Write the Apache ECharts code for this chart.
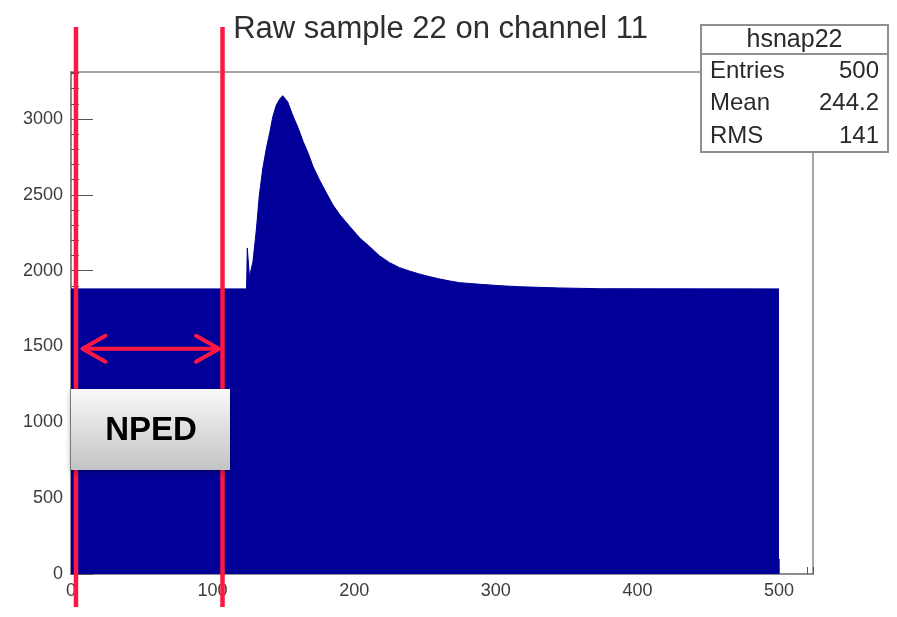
<!DOCTYPE html>
<html>
<head>
<meta charset="utf-8">
<title>Raw sample 22 on channel 11</title>
<script src="https://cdn.jsdelivr.net/npm/echarts@6/dist/echarts.min.js"></script>
<style>
  html, body { margin: 0; padding: 0; background: #ffffff; }
  #chart { width: 897px; height: 617px; }
</style>
</head>
<body>
<div id="chart"></div>
<script>
// Histogram title and statistics box contents
const histTitle = 'Raw sample 22 on channel 11';
const histName = 'hsnap22';
const statLabels = ['Entries', 'Mean', 'RMS'];
const statValues = ['500', '244.2', '141'];

// Sample number (x) and ADC counts (y) along the outline of the waveform
const sampleIndex = [0, 124, 124.5, 125.5, 126, 128.5, 131, 133, 135.5, 138, 140.5, 142.5, 145, 147.5, 149.5, 150.5,
  153, 156.5, 160.5, 164, 167.5, 171, 175.5, 180.5, 185, 190, 197, 204, 211, 218, 225, 232, 239, 246, 253.5,
  260.5, 267.5, 274.5, 289, 303, 317, 331, 345, 374, 500];
const adcCounts = [1880, 1880, 2150, 2150, 1960, 2059, 2281, 2499, 2677, 2809, 2916, 3015, 3092, 3133, 3154, 3158,
  3114, 3026, 2939, 2850, 2774, 2685, 2598, 2510, 2433, 2367, 2290, 2215, 2158, 2097, 2053, 2020, 1998, 1978, 1960,
  1945, 1932, 1921, 1910, 1901, 1894, 1890, 1886, 1881, 1880];

// Axis ranges and labelled ticks
const xRange = [0, 524];
const yRange = [0, 3310];
const xTickLabels = [0, 100, 200, 300, 400, 500];
const yTickLabels = [0, 500, 1000, 1500, 2000, 2500, 3000];

// Pedestal window markers (sample units) and arrow level (ADC counts)
const pedestalBounds = [3.5, 107];
const arrowLevel = 1485;
const pedestalTag = 'NPED';

const FONT = '"Liberation Sans", Arial, Helvetica, sans-serif';
const RED = '#ff1744';
const NAVY = '#000099';

const chart = echarts.init(document.getElementById('chart'), null, { renderer: 'canvas' });

const points = sampleIndex.map((x, i) => [x, adcCounts[i]]);

const axisLineStyle = { show: true, lineStyle: { color: '#8c8c8c', width: 2 } };

chart.setOption({
  animation: false,
  backgroundColor: '#ffffff',
  grid: {
    left: 71, top: 72, width: 742, height: 502,
    show: true, borderColor: '#a6a6a6', borderWidth: 2, backgroundColor: 'transparent'
  },
  xAxis: [
    {
      type: 'value', min: xRange[0], max: xRange[1], interval: 20, position: 'bottom',
      axisLine: axisLineStyle,
      axisTick: { show: true, inside: true, length: 7, lineStyle: { color: '#555', width: 1 } },
      axisLabel: {
        show: true, margin: 8, color: '#3c3c3c', fontFamily: FONT, fontSize: 18,
        formatter: v => (xTickLabels.indexOf(v) >= 0 ? String(v) : '')
      },
      splitLine: { show: false }
    },
    {
      type: 'value', min: xRange[0], max: xRange[1], interval: 100, position: 'bottom',
      axisLine: { show: false },
      axisTick: { show: true, inside: true, length: 15, customValues: xTickLabels, lineStyle: { color: '#555', width: 1 } },
      axisLabel: { show: false },
      splitLine: { show: false }
    }
  ],
  yAxis: [
    {
      type: 'value', min: yRange[0], max: yRange[1], interval: 100, position: 'left',
      axisLine: axisLineStyle,
      axisTick: { show: true, inside: true, length: 8, lineStyle: { color: '#555', width: 1 } },
      axisLabel: {
        show: true, margin: 8, color: '#3c3c3c', fontFamily: FONT, fontSize: 18,
        formatter: v => (yTickLabels.indexOf(v) >= 0 ? String(v) : '')
      },
      splitLine: { show: false }
    },
    {
      type: 'value', min: yRange[0], max: yRange[1], interval: 500, position: 'left',
      axisLine: { show: false },
      axisTick: { show: true, inside: true, length: 22, customValues: yTickLabels, lineStyle: { color: '#555', width: 1 } },
      axisLabel: { show: false },
      splitLine: { show: false }
    }
  ],
  series: [
    {
      type: 'line',
      xAxisIndex: 0, yAxisIndex: 0,
      data: points,
      showSymbol: false,
      smooth: false,
      lineStyle: { color: NAVY, width: 1 },
      areaStyle: { color: NAVY, opacity: 1 },
      z: 2
    }
  ]
});

// Overlay: title, statistics box and pedestal window annotation
function buildOverlay() {
  const xL = chart.convertToPixel({ xAxisIndex: 0 }, pedestalBounds[0]);
  const xR = chart.convertToPixel({ xAxisIndex: 0 }, pedestalBounds[1]);
  const yA = chart.convertToPixel({ yAxisIndex: 0 }, arrowLevel);
  const tipL = xL + 6.5, tipR = xR - 3.5;
  const head = 23, spread = 13;
  const redLine = { stroke: RED, lineWidth: 4, lineCap: 'round', lineJoin: 'round', fill: null };

  const statBoxX = 701, statBoxY = 25, statBoxW = 187, statBoxH = 127;
  const rowY = [71, 103, 136];

  const elements = [
    {
      type: 'text', x: 440.5, y: 29, z: 100,
      style: { text: histTitle, fontFamily: FONT, fontSize: 31, fill: '#2e2e2e', align: 'center', verticalAlign: 'middle' }
    },
    {
      type: 'rect', z: 100,
      shape: { x: statBoxX, y: statBoxY, width: statBoxW, height: statBoxH },
      style: { fill: '#ffffff', stroke: '#8f8f8f', lineWidth: 2 }
    },
    {
      type: 'line', z: 101,
      shape: { x1: statBoxX, y1: 54, x2: statBoxX + statBoxW, y2: 54 },
      style: { stroke: '#8f8f8f', lineWidth: 2 }
    },
    {
      type: 'text', x: statBoxX + statBoxW / 2, y: 40, z: 101,
      style: { text: histName, fontFamily: FONT, fontSize: 25, fill: '#2a2a2a', align: 'center', verticalAlign: 'middle' }
    }
  ];
  statLabels.forEach((lab, i) => {
    elements.push({
      type: 'text', x: 710, y: rowY[i], z: 101,
      style: { text: lab, fontFamily: FONT, fontSize: 24, fill: '#2a2a2a', align: 'left', verticalAlign: 'middle' }
    });
    elements.push({
      type: 'text', x: 879, y: rowY[i], z: 101,
      style: { text: statValues[i], fontFamily: FONT, fontSize: 24, fill: '#2a2a2a', align: 'right', verticalAlign: 'middle' }
    });
  });

  // Pedestal window: vertical markers, double arrow, label box
  elements.push(
    { type: 'line', z: 110, shape: { x1: xL, y1: 27, x2: xL, y2: 607 }, style: { stroke: RED, lineWidth: 4.5 } },
    { type: 'line', z: 110, shape: { x1: xR, y1: 27, x2: xR, y2: 607 }, style: { stroke: RED, lineWidth: 4.5 } },
    { type: 'line', z: 111, shape: { x1: tipL + 2, y1: yA, x2: tipR - 2, y2: yA }, style: redLine },
    { type: 'polyline', z: 111, shape: { points: [[tipL + head, yA - spread], [tipL, yA], [tipL + head, yA + spread]] }, style: redLine },
    { type: 'polyline', z: 111, shape: { points: [[tipR - head, yA - spread], [tipR, yA], [tipR - head, yA + spread]] }, style: redLine },
    {
      type: 'rect', z: 112,
      shape: { x: 71, y: 389, width: 159, height: 81 },
      style: {
        fill: new echarts.graphic.LinearGradient(0, 0, 0, 1, [
          { offset: 0, color: '#f9f9f9' },
          { offset: 1, color: '#c3c3c3' }
        ]),
        shadowBlur: 6, shadowColor: 'rgba(0,0,0,0.35)', shadowOffsetY: 2
      }
    },
    {
      type: 'text', x: 151, y: 431, z: 113,
      style: { text: pedestalTag, fontFamily: FONT, fontWeight: 'bold', fontSize: 33, fill: '#000000', align: 'center', verticalAlign: 'middle' }
    }
  );
  chart.setOption({ graphic: { elements: elements } });
}
buildOverlay();
</script>
</body>
</html>
